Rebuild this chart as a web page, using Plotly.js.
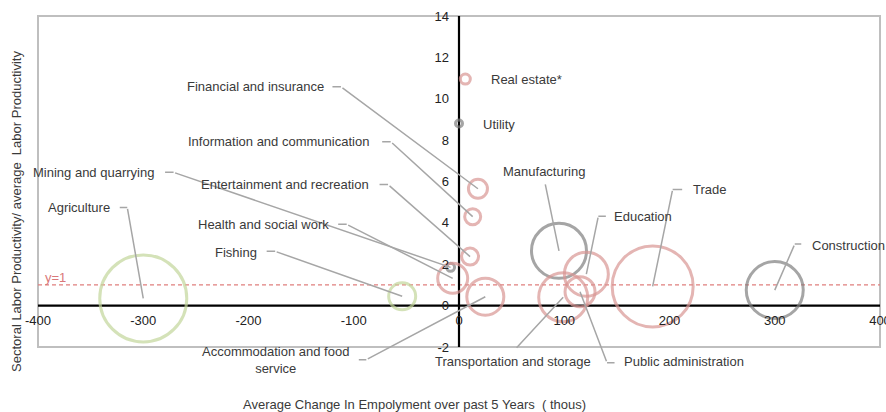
<!DOCTYPE html>
<html><head><meta charset="utf-8">
<script src="https://cdn.plot.ly/plotly-3.0.1.min.js"></script>
<style>html,body{margin:0;padding:0;background:#fff}</style>
</head><body><div id="chart" style="width:886px;height:412px"></div>
<script>
// ---- data ----
const sectors = ["Agriculture","Fishing","Mining and quarrying","Manufacturing","Utility","Construction","Trade","Transportation and storage","Accommodation and food<br>service","Information and communication","Financial and insurance","Real estate*","Public administration","Education","Health and social work","Entertainment and recreation"];
const employmentChange = [-300,-54,-8,95,0,300,184,99,25,13,18,6,115,121,-6,10.5];
const relProductivity = [0.35,0.45,1.85,2.65,8.8,0.75,0.93,0.4,0.43,4.3,5.65,10.95,0.67,1.52,1.32,2.37];
const bubbleSize = [87,27,8,55,7,57,81,49,37,16,19,10,30,44,30,17];
const sectorGroup = ["primary","primary","industry","industry","industry","industry","services","services","services","services","services","services","services","services","services","services"];
const xTicks = [-400,-300,-200,-100,0,100,200,300,400];
const yTicks = [-2,0,2,4,6,8,10,12,14];

// ---- label layout (pixel offsets from bubble centre; dy positive = up) ----
const labelAnchor = ["right","right","right","center","left","left","left","center","right","right","right","left","left","left","right","right"];
const labelDx = [-31,-143,-295,-15,22,35,38,-50,-134,-102,-152,24,42,26,-122,-99];
const labelDy = [91,44,95,79,-1,45,97,-64,-63,75,102,0,-70,58,54,72];
const leaderStub = [[-25,91],[-137,45],[-287,95],null,null,[28,46],[31,97],null,[-128,-63],[-92,75],[-147,102],null,[36,-71],[21,58],[-116,54],[-92,72]];
const leaderElbow = [[-16,91],[-127,45],[-277,95],[-14,68],null,[20,46],[20,97],[-48,-52],[-119,-63],[-82,75],[-137,102],null,[27,-71],[12,58],[-106,54],[-82,72]];

const groupColor = {primary:"#c3d69b", industry:"#7f7f7f", services:"#d99694"};
const xRange = [-400,400], yRange = [-2,14];
const FONT = "Liberation Sans, Arial, sans-serif";
const leaderColor = "#a6a6a6";

const trace = {
  type:"scatter", mode:"markers",
  x: employmentChange, y: relProductivity,
  text: sectors, hoverinfo:"none",
  marker:{size: bubbleSize, sizemode:"diameter", color:"rgba(0,0,0,0)",
    line:{width:3, color: sectorGroup.map(g=>groupColor[g])}},
  cliponaxis:false
};

const annotations = [];
sectors.forEach((s,i)=>{
  annotations.push({x:employmentChange[i], y:relProductivity[i], xref:"x", yref:"y",
    text:s, showarrow:false, xanchor:labelAnchor[i], yanchor:"middle", align:"center",
    xshift:labelDx[i], yshift:labelDy[i], font:{family:FONT,size:13,color:"#3a3a3a"}});
  const e = leaderElbow[i], st = leaderStub[i];
  if(e){
    annotations.push({x:employmentChange[i], y:relProductivity[i], xref:"x", yref:"y",
      text:"", showarrow:true, arrowhead:0, arrowwidth:1.5, arrowcolor:leaderColor,
      standoff:0, startstandoff:0, ax:e[0], ay:-e[1]});
  }
  if(e && st){
    annotations.push({x:employmentChange[i], y:relProductivity[i], xref:"x", yref:"y",
      text:"", showarrow:true, arrowhead:0, arrowwidth:1.5, arrowcolor:leaderColor,
      standoff:0, startstandoff:0, xshift:e[0], yshift:e[1], ax:st[0]-e[0], ay:-(st[1]-e[1])});
  }
});
annotations.push({xref:"paper", yref:"y", x:0, y:1, xanchor:"left", yanchor:"bottom", xshift:5, yshift:-2,
  text:"y=1", showarrow:false, font:{family:FONT,size:13,color:"#d9787a"}});
annotations.push({xref:"paper", yref:"paper", x:-0.025, y:0.411, textangle:-90, xanchor:"center", yanchor:"middle",
  text:"Sectoral Labor Productivity/ average  Labor Productivity", showarrow:false, font:{family:FONT,size:13,color:"#3a3a3a"}});
annotations.push({xref:"paper", yref:"paper", x:0.4466, y:-0.175, xanchor:"center", yanchor:"middle",
  text:"Average Change In Empolyment over past 5 Years  ( thous)", showarrow:false, font:{family:FONT,size:13,color:"#3a3a3a"}});

const layout = {
  width:886, height:412,
  margin:{l:38, r:6, t:16, b:65},
  paper_bgcolor:"#fff", plot_bgcolor:"#fff",
  showlegend:false, hovermode:false,
  font:{family:FONT, size:13, color:"#222"},
  xaxis:{range:xRange, domain:[0,1], anchor:"free", position:(0-yRange[0])/(yRange[1]-yRange[0]),
    tickvals:xTicks, ticktext:xTicks.map(String), showgrid:false, showline:false, ticks:"",
    zeroline:false, tickfont:{family:FONT,size:13,color:"#222"}, ticklabelstandoff:5,
    ticklabeloverflow:"allow", fixedrange:true},
  yaxis:{range:yRange, domain:[0,1], anchor:"free", position:(0-xRange[0])/(xRange[1]-xRange[0]),
    tickvals:yTicks, ticktext:yTicks.map(String), showgrid:false, showline:false, ticks:"",
    zeroline:false, tickfont:{family:FONT,size:13,color:"#222"}, ticklabelstandoff:10,
    ticklabeloverflow:"allow", fixedrange:true},
  shapes:[
    {type:"rect", xref:"paper", yref:"paper", x0:0, x1:1, y0:0, y1:1, line:{color:"#bfbfbf", width:2}, layer:"below"},
    {type:"line", xref:"x", yref:"y", x0:xRange[0], x1:xRange[1], y0:1, y1:1, line:{color:"#e07f7d", width:1.2, dash:"4px,3px"}, layer:"below"},
    {type:"line", xref:"x", yref:"y", x0:xRange[0], x1:xRange[1], y0:0, y1:0, line:{color:"#000", width:2.2}, layer:"below"},
    {type:"line", xref:"x", yref:"y", x0:0, x1:0, y0:yRange[0], y1:yRange[1], line:{color:"#000", width:2.2}, layer:"below"}
  ],
  annotations: annotations
};
Plotly.newPlot("chart", [trace], layout, {displayModeBar:false, staticPlot:true});
</script></body></html>
